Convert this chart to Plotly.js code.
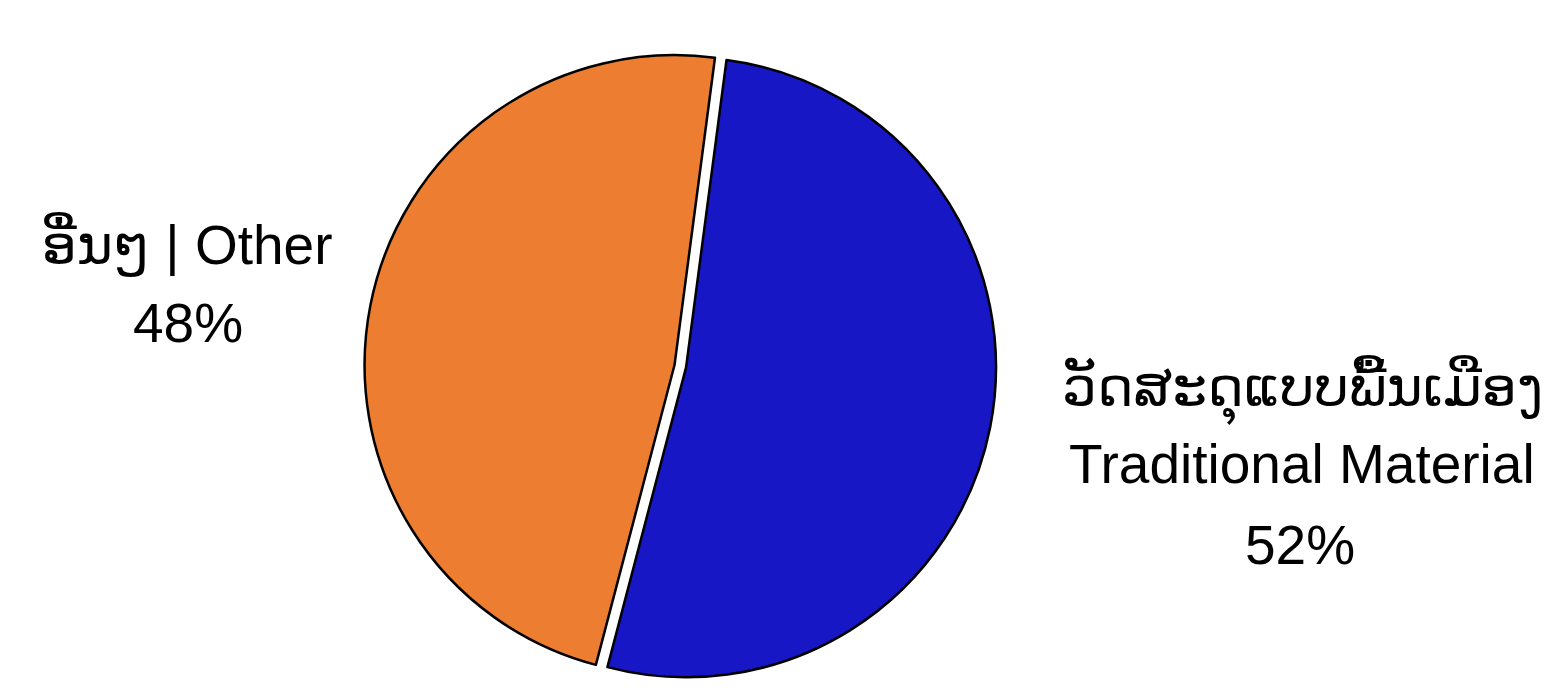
<!DOCTYPE html>
<html>
<head>
<meta charset="utf-8">
<script src="https://cdn.plot.ly/plotly-3.0.1.min.js"></script>
<style>html,body{margin:0;padding:0;background:#fff;}#chart{width:1565px;height:699px;}</style>
</head>
<body>
<div id="chart"></div>
<script>
const labelsLao = ["ວັດສະດຸແບບພື້ນເມືອງ", "ອື່ນໆ"];
const labelsEn = ["Traditional Material", "Other"];
const values = [52, 48];
const colors = ["#1717C6", "#ED7D31"];
const pulls = [0.038, 0];

const font = {family: "Liberation Sans, Arial, DejaVu Sans, sans-serif", size: 55, color: "#000"};

const trace = {
  type: "pie",
  values: values,
  labels: labelsEn,
  sort: false,
  direction: "clockwise",
  rotation: 7.5,
  pull: pulls,
  marker: {colors: colors, line: {color: "#000", width: 2.5}},
  textinfo: "none",
  hoverinfo: "label+percent",
  domain: {x: [0.181, 0.681], y: [0.0175, 0.938]},
  showlegend: false
};

function ann(text, xpx, ypx) {
  return {text: text, x: xpx / 1565, y: 1 - ypx / 699, xref: "paper", yref: "paper",
    xanchor: "center", yanchor: "middle", showarrow: false, font: font};
}

const annotations = [
  ann(labelsLao[1] + " | " + labelsEn[1], 187, 244),
  ann(values[1] + "%", 188, 323),
  ann(labelsLao[0], 1302, 390),
  ann(labelsEn[0], 1302, 464),
  ann(values[0] + "%", 1300, 545)
];

Plotly.newPlot("chart", [trace], {
  width: 1565, height: 699,
  margin: {l: 0, r: 0, t: 0, b: 0},
  paper_bgcolor: "#fff",
  showlegend: false,
  annotations: annotations
}, {displayModeBar: false, staticPlot: true});
</script>
</body>
</html>
